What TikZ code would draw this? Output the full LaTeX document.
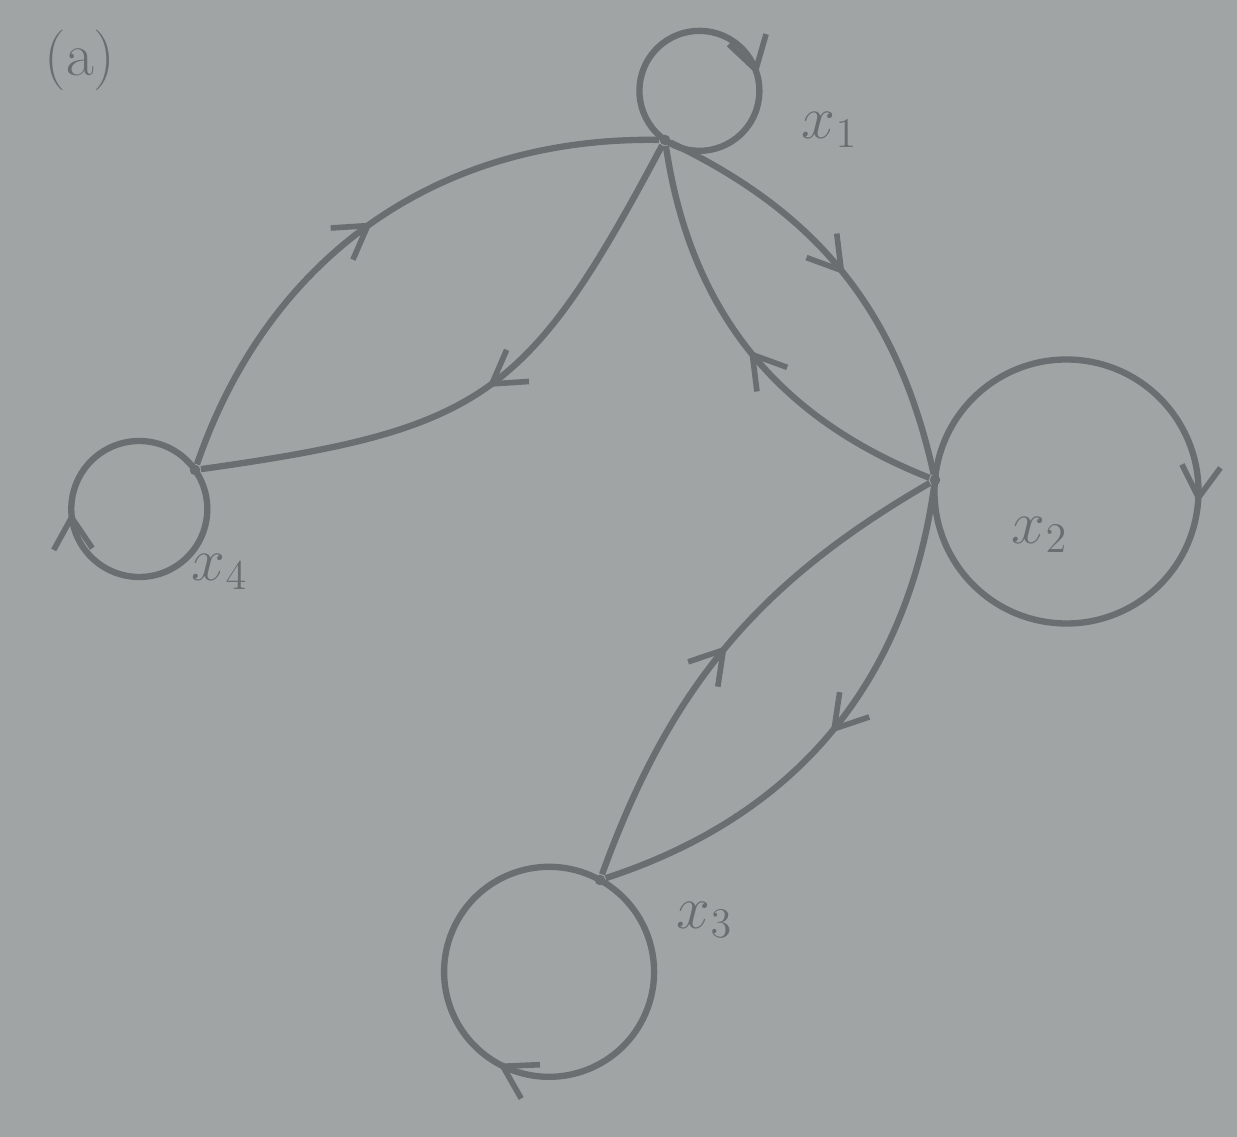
\documentclass[tikz,border=0pt]{standalone}
\usetikzlibrary{arrows.meta,positioning,decorations.markings}
\definecolor{paper}{HTML}{A0A4A5}
\definecolor{pencil}{HTML}{6A6E70}

\begin{document}
\begin{tikzpicture}[
    state/.style={circle, fill=pencil, inner sep=0pt, minimum size=3pt},
    lab/.style={font=\LARGE, text=pencil},
    link/.style={pencil, line width=1.8pt, postaction={decorate},
                 decoration={markings, mark=at position #1 with
                 {\arrow{Straight Barb[length=9pt, width=11pt, line width=1.6pt]}}}},
    link/.default=0.5,
  ]

  % ---- Background ----
  \useasboundingbox (0,0) rectangle (12.37,11.37);
  \fill[paper] (0,0) rectangle (12.37,11.37);

  \node[lab] (title) at (0.8,10.77) {(a)};

  % ============ States ============
  \node[state] (s1) at (6.65,9.97) {};
  \node[state] (s2) at (9.35,6.57) {};
  \node[state] (s3) at (6.00,2.57) {};
  \node[state] (s4) at (1.95,6.67) {};

  \node[lab] (l1) at (8.30,10.07) {$x_1$};
  \node[lab] (l2) at (10.40,6.02) {$x_2$};
  \node[lab] (l3) at (7.05,2.17) {$x_3$};
  \node[lab] (l4) at (2.20,5.65) {$x_4$};

  % ============ Transitions ============
  \draw[link] (s4) to[bend left=36] (s1);
  \draw[link] (s1) to[out=242, in=8, looseness=1.3] (s4);

  \draw[link] (s1) to[bend left=26] (s2);
  \draw[link] (s2) to[bend left=30] (s1);

  \draw[link] (s2) to[bend left=32] (s3);
  \draw[link] (s3) to[bend left=20] (s2);

  % Self loops
  \draw[link=0.61] (s1) arc[start angle=235, delta angle=-360, radius=0.6];
  \draw[link] (s2) arc[start angle=175, delta angle=-360, radius=1.32];
  \draw[link] (s3) arc[start angle=61, delta angle=-360, radius=1.05];
  \draw[link=0.59] (s4) arc[start angle=35, delta angle=-360, radius=0.68];

\end{tikzpicture}
\end{document}
